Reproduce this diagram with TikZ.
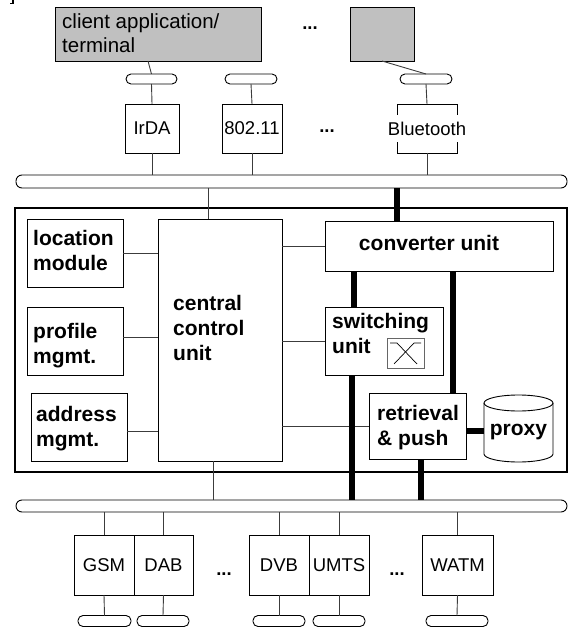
\documentclass[tikz,border=0pt]{standalone}
\usepackage{fontspec}
\setmainfont{Liberation Sans}
\definecolor{boxgray}{RGB}{192,192,192}
\definecolor{wiregray}{RGB}{60,60,60}
\tikzset{
  box/.style={draw=black, line width=0.9pt, fill=white, inner sep=0pt, outer sep=0pt, anchor=north west},
  unitbox/.style={box, anchor=north, font=\fontsize{18.5}{22}\selectfont},
  pill/.style={draw=black, line width=0.9pt, fill=white, rounded corners=5pt, minimum height=10pt, inner sep=0pt, outer sep=0pt},
  bus/.style={draw=black, line width=0.9pt, rounded corners=6pt, inner sep=0pt, outer sep=0pt, anchor=north west},
  wire/.style={draw=wiregray, line width=0.9pt},
  fat/.style={draw=black, line width=6pt},
  lbl/.style={inner sep=0pt, font=\fontsize{18.5}{22}\selectfont},
  blbl/.style={inner sep=0pt, anchor=base west, align=left, font=\fontsize{21}{24.8}\selectfont\bfseries},
  dots/.style={inner sep=0pt, anchor=base, font=\fontsize{18.5}{22}\selectfont\bfseries},
}
\begin{document}
\begin{tikzpicture}[x=1pt, y=-1pt]
\useasboundingbox (0,0) rectangle (573,628);

% fragment of a bracket in the upper left corner
\draw[line width=1.2pt] (10,3.5) -- (13,3.5) -- (13,0);

% ---------- terminals ----------
% multi-line labels are anchored at the baseline of their last line
\node[box, fill=boxgray, minimum width=206pt, minimum height=54pt] (client) at (55,7) {};
\node[inner sep=0pt, anchor=base west, align=left, font=\fontsize{20.5}{24}\selectfont] (clientl) at (62,53) {client application/\\terminal};
\node[box, fill=boxgray, minimum width=64pt, minimum height=54pt] (term) at (350,7) {};
\node[dots] (dt) at (310,30) {...};

% access points
\node[pill, minimum width=51pt] (p1) at (151.5,79) {};
\node[pill, minimum width=52pt] (p2) at (251,79) {};
\node[pill, minimum width=52pt] (p3) at (426,79) {};
\draw[wire] ([xshift=93pt]client.south west) -- (p1.north);
\draw[wire] ([xshift=32pt]term.south west) -- (p3.north);

% short-range interfaces
\node[unitbox, minimum width=54pt, minimum height=49pt] (irda) at (152,104) {IrDA};
\node[unitbox, minimum width=60pt, minimum height=49pt] (wlan) at (252,104) {802.11};
\node[box, anchor=north, minimum width=60pt, minimum height=49pt] (bt) at (427,104) {};
\node[lbl, fill=white, inner xsep=1pt, inner ysep=7pt] (btl) at (bt.center) {Bluetooth};
\node[dots] (dm) at (327,133) {...};

\draw[wire] (p1.south) -- (irda.north);
\draw[wire] (p2.south) -- (wlan.north);
\draw[wire] (p3.south) -- (bt.north);

% upper bus
\node[bus, minimum width=551pt, minimum height=13pt] (tbus) at (16,175) {};
\draw[wire] (irda.south) -- (irda.south |- tbus.north);
\draw[wire] (wlan.south) -- (wlan.south |- tbus.north);
\draw[wire] (bt.south) -- (bt.south |- tbus.north);

% ---------- gateway ----------
\node[box, line width=1.8pt, minimum width=552pt, minimum height=264pt] (main) at (15,208) {};

\node[box, minimum width=96pt, minimum height=68pt] (loc) at (27,219) {};
\node[blbl] (locl) at (33,270) {location\\module};
\node[box, minimum width=96pt, minimum height=68pt] (prof) at (27,307) {};
\node[blbl] (profl) at (33,363) {profile\\mgmt.};
\node[box, minimum width=96pt, minimum height=68pt] (addr) at (31,393) {};
\node[blbl] (addrl) at (36,446) {address\\mgmt.};

\node[box, minimum width=124pt, minimum height=242pt] (ccu) at (158,219) {};
\node[blbl] (ccul) at (173,360) {central\\control\\unit};

\node[box, minimum width=228pt, minimum height=50pt] (conv) at (325,221) {};
\node[blbl, anchor=base] (convl) at (429,250) {converter unit};

\node[box, minimum width=118pt, minimum height=68pt] (sw) at (325,307) {};
\node[blbl] (swl) at (332,353) {switching\\unit};
% crossbar symbol
\node[box, draw=black!60, minimum width=37pt, minimum height=30pt] (xbox) at (387,338) {};
\draw[line width=0.7pt] ([xshift=3pt,yshift=-5pt]xbox.north west) -- ([xshift=10pt,yshift=-5pt]xbox.north west) -- ([xshift=-7pt,yshift=4pt]xbox.south east);
\draw[line width=0.7pt] ([xshift=-3pt,yshift=-5pt]xbox.north east) -- ([xshift=-10pt,yshift=-5pt]xbox.north east) -- ([xshift=7pt,yshift=4pt]xbox.south west);

\node[box, minimum width=97pt, minimum height=66pt] (ret) at (369,393) {};
\node[blbl] (retl) at (377,445) {retrieval\\\& push};

% proxy cache drawn as a cylinder
\node[inner sep=0pt, outer sep=0pt, anchor=north west, minimum width=69pt, minimum height=67pt] (proxy) at (484,395) {};
\draw[line width=0.9pt, fill=white]
  ([yshift=-8pt]proxy.north west) -- ([yshift=8pt]proxy.south west)
  arc[start angle=180, end angle=360, x radius=34.5pt, y radius=8pt]
  -- ([yshift=-8pt]proxy.north east);
\draw[line width=0.9pt] ([yshift=-8pt]proxy.north) ellipse[x radius=34.5pt, y radius=8pt];
\node[blbl, anchor=base] (proxyl) at (518.5,435) {proxy};

% control connections
\draw[wire] (loc.east) -- (loc.east -| ccu.west);
\draw[wire] ([yshift=4pt]prof.east) -- ([yshift=4pt]prof.east -| ccu.west);
\draw[wire] ([yshift=-4pt]addr.east) -- ([yshift=-4pt]addr.east -| ccu.west);
\draw[wire] (conv.west -| ccu.east) -- (conv.west);
\draw[wire] (sw.west -| ccu.east) -- (sw.west);
\draw[wire] (ret.west -| ccu.east) -- (ret.west);
\draw[wire] ([xshift=50pt]ccu.north west |- tbus.south) -- ([xshift=50pt]ccu.north west);

% lower bus
\node[bus, minimum width=551pt, minimum height=12pt] (bbus) at (16,500) {};
\draw[wire] ([xshift=55pt]ccu.south west) -- ([xshift=55pt]ccu.south west |- bbus.north);

% data paths
\draw[fat] ([xshift=72pt]conv.north west |- tbus.south) -- ([xshift=72pt]conv.north west);
\draw[fat] ([xshift=29pt]conv.south west) -- ([xshift=29pt]conv.south west |- sw.north);
\draw[fat] ([xshift=27pt]sw.south west) -- ([xshift=27pt]sw.south west |- bbus.north);
\draw[fat] ([xshift=128pt]conv.south west) -- ([xshift=128pt]conv.south west |- ret.north);
\draw[fat] ([xshift=52pt]ret.south west) -- ([xshift=52pt]ret.south west |- bbus.north);
\draw[fat] ([yshift=-5pt]ret.east) -- ([yshift=-5pt]ret.east -| proxy.west);

% ---------- wide-area networks ----------
\node[unitbox, minimum width=60pt, minimum height=60pt] (gsm) at (104,535) {GSM};
\node[unitbox, minimum width=59pt, minimum height=60pt] (dab) at (163.5,535) {DAB};
\node[unitbox, minimum width=60pt, minimum height=60pt] (dvb) at (279,535) {DVB};
\node[unitbox, minimum width=60pt, minimum height=60pt] (umts) at (339,535) {UMTS};
\node[unitbox, minimum width=71pt, minimum height=60pt] (watm) at (457.5,535) {WATM};
\node[dots] (db1) at (224,575) {...};
\node[dots] (db2) at (397,575) {...};

\node[pill, minimum width=53pt, minimum height=11pt] (q1) at (104.5,621) {};
\node[pill, minimum width=52pt, minimum height=11pt] (q2) at (163,621) {};
\node[pill, minimum width=52pt, minimum height=11pt] (q3) at (279,621) {};
\node[pill, minimum width=52pt, minimum height=11pt] (q4) at (339,621) {};
\node[pill, minimum width=62pt, minimum height=11pt] (q5) at (457,621) {};

\foreach \n/\q in {gsm/q1, dab/q2, dvb/q3, umts/q4, watm/q5} {
  \draw[wire] (\n.north |- bbus.south) -- (\n.north);
  \draw[wire] (\n.south) -- (\q.north);
}
\end{tikzpicture}
\end{document}
